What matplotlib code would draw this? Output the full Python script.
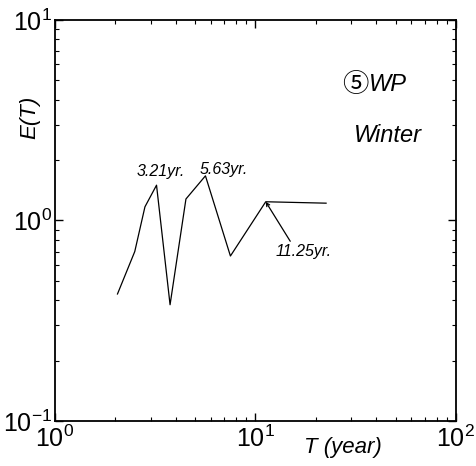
import numpy as np
import matplotlib
matplotlib.use('Agg')
import matplotlib.pyplot as plt

plt.rcParams['font.family'] = ['Liberation Sans', 'DejaVu Sans']
plt.rcParams['mathtext.fontset'] = 'custom'
plt.rcParams['mathtext.rm'] = 'Liberation Sans'
plt.rcParams['mathtext.it'] = 'Liberation Sans:italic'

# period (years) and energy values
periods = [2.05, 2.5, 2.81, 3.21, 3.75, 4.5, 5.63, 7.5, 11.25, 22.5]
energy = [0.43, 0.70, 1.17, 1.50, 0.38, 1.28, 1.67, 0.665, 1.24, 1.22]

peak_labels = ['3.21yr.', '5.63yr.']
peak_label_pos = [(3.38, 1.75), (6.97, 1.79)]

fig = plt.figure(figsize=(4.76, 4.66), dpi=100)
ax = fig.add_axes([0.1155, 0.0966, 0.8424, 0.8605])

ax.plot(periods, energy, color='black', lw=0.9)

ax.set_xscale('log')
ax.set_yscale('log')
ax.set_xlim(1, 100)
ax.set_ylim(0.1, 10)

for lab, (tx, ty) in zip(peak_labels, peak_label_pos):
    ax.text(tx, ty, lab, fontsize=11.5, style='italic', ha='center', va='center')

ax.annotate('11.25yr.', xy=(periods[8], energy[8]), xytext=(17.3, 0.70),
            fontsize=11.5, style='italic', ha='center', va='center',
            arrowprops=dict(arrowstyle='->', color='black', lw=0.9,
                            mutation_scale=6, relpos=(0.3, 1.0),
                            shrinkA=0, shrinkB=0))

ax.text(0.782, 0.838, '⑤', transform=ax.transAxes, fontsize=19,
        ha='right', va='center', family=['Noto Sans CJK JP', 'DejaVu Sans'])
ax.text(0.782, 0.838, 'WP', transform=ax.transAxes, fontsize=17, style='italic',
        ha='left', va='center')
ax.text(0.831, 0.713, 'Winter', transform=ax.transAxes, fontsize=17, style='italic',
        ha='center', va='center')

ax.set_xlabel('T (year)', fontsize=16, style='italic', va='center')
ax.xaxis.set_label_coords(0.718, -0.067)
ax.set_ylabel('E(T)', fontsize=16, style='italic', va='center')
ax.yaxis.set_label_coords(-0.062, 0.758)

ax.tick_params(which='both', direction='in', top=True, right=True, labelsize=18)
ax.tick_params(which='major', length=6, width=1)
ax.tick_params(which='minor', length=3, width=0.8)
ax.tick_params(axis='x', pad=3)
ax.tick_params(axis='y', pad=2)
for s in ax.spines.values():
    s.set_linewidth(1.3)

fig.savefig('out.png', dpi=100)
